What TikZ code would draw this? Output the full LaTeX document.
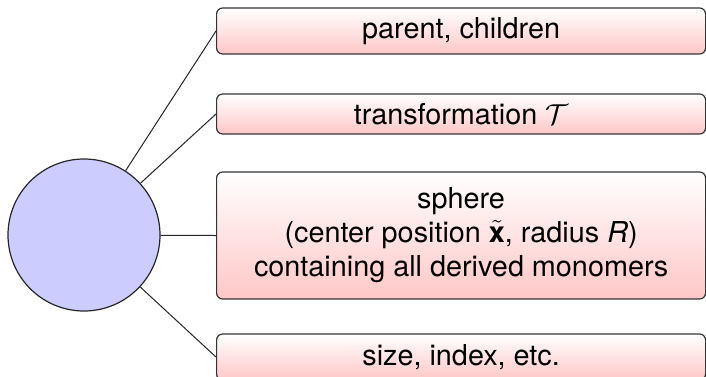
\documentclass[tikz,border=0pt]{standalone}
\usepackage{amsmath,amssymb}
\usepackage{fontspec}
\setmainfont{TeX Gyre Heros}
\usetikzlibrary{positioning}

\begin{document}
\begin{tikzpicture}[
  x=0.5pt, y=-0.5pt,
  attr/.style={draw=black!80, line width=0.6pt, rectangle, rounded corners=3pt,
               top color=white, bottom color=red!22, minimum width=244.5pt,
               align=center, anchor=west, font=\fontsize{14.4}{17}\selectfont},
  link/.style={draw=black!85, line width=0.5pt}
]
\useasboundingbox (0,0) rectangle (706,376);
\node[circle, draw=black!85, line width=0.6pt, fill=blue!20, minimum size=76pt, inner sep=0pt] (sphere) at (84,235) {};

\node[attr, minimum height=23pt]   (tree)  at (216,31)    {parent, children};
\node[attr, minimum height=20pt]   (trafo) at (216,114)   {transformation $\mathcal{T}$};
\node[attr, minimum height=63.5pt] (bound) at (216,235.5) {sphere\\(center position $\tilde{\textbf{x}}$, radius \textit{R})\\containing all derived monomers};
\node[attr, minimum height=23pt]   (misc)  at (216,357)   {size, index, etc.};

\draw[link] (sphere) -- (tree.west);
\draw[link] (sphere) -- (trafo.west);
\draw[link] (sphere) -- (bound.west);
\draw[link] (sphere) -- (misc.west);
\end{tikzpicture}
\end{document}
